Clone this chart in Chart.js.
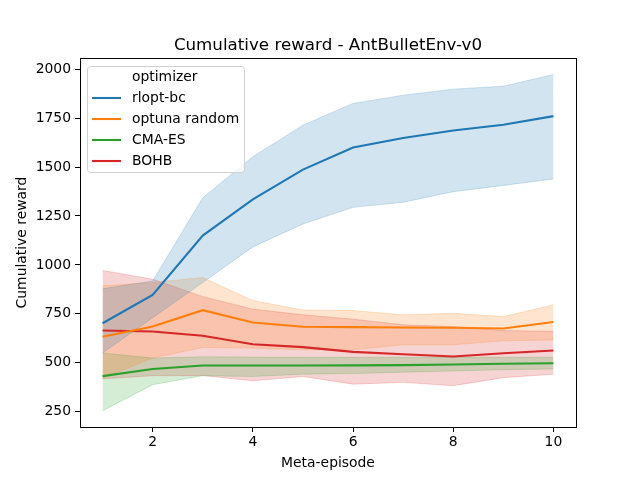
<!DOCTYPE html>
<html>
<head>
<meta charset="utf-8">
<script src="https://cdn.jsdelivr.net/npm/chart.js@4/dist/chart.umd.min.js"></script>
<style>
  html, body { margin: 0; padding: 0; background: #fff; }
  #wrap { width: 640px; height: 480px; }
</style>
</head>
<body>
<div id="wrap"><canvas id="myChart" width="640" height="480"></canvas></div>
<script>
// meta-episodes
const episodes = [1, 2, 3, 4, 5, 6, 7, 8, 9, 10];

const optimizers = ['rlopt-bc', 'optuna random', 'CMA-ES', 'BOHB'];

// mean cumulative reward + confidence band
const rloptMean  = [702, 847, 1150, 1335, 1487, 1600, 1648, 1687, 1716, 1760];
const rloptUpper = [878, 918, 1343, 1553, 1714, 1825, 1867, 1898, 1913, 1973];
const rloptLower = [550, 730, 910, 1092, 1209, 1294, 1320, 1374, 1406, 1439];

const optunaMean  = [633, 685, 769, 706, 684, 682, 680, 679, 675, 708];
const optunaUpper = [893, 910, 936, 818, 770, 767, 745, 753, 736, 796];
const optunaLower = [422, 524, 578, 575, 566, 566, 592, 592, 612, 617];

const cmaMean  = [432, 468, 486, 486, 486, 487, 488, 491, 495, 498];
const cmaUpper = [550, 524, 531, 529, 528, 528, 528, 528, 528, 528];
const cmaLower = [255, 388, 434, 430, 442, 445, 452, 458, 465, 468];

const bohbMean  = [665, 660, 638, 595, 580, 556, 544, 532, 549, 563];
const bohbUpper = [972, 927, 838, 774, 745, 723, 694, 685, 665, 660];
const bohbLower = [418, 434, 435, 408, 430, 391, 400, 383, 424, 442];

const yTicks = [250, 500, 750, 1000, 1250, 1500, 1750, 2000];
const xTicks = [2, 4, 6, 8, 10];

const chartTitle = 'Cumulative reward - AntBulletEnv-v0';

const colors = ['#1f77b4', '#ff7f0e', '#2ca02c', '#d62728'];
const means  = [rloptMean, optunaMean, cmaMean, bohbMean];
const uppers = [rloptUpper, optunaUpper, cmaUpper, bohbUpper];
const lowers = [rloptLower, optunaLower, cmaLower, bohbLower];

function hexAlpha(hex, a) {
    let r = parseInt(hex.slice(1, 3), 16);
    let g = parseInt(hex.slice(3, 5), 16);
    let b = parseInt(hex.slice(5, 7), 16);
    return 'rgba(' + r + ',' + g + ',' + b + ',' + a + ')';
}

function pts(arr) {
    return arr.map((v, i) => ({x: episodes[i], y: v}));
}

const FONT = "'DejaVu Sans', sans-serif";

let datasets = [];
for (let i = 0; i < optimizers.length; i++) {
    // band: upper filled down to lower (next dataset)
    datasets.push({
        label: optimizers[i] + ' upper',
        data: pts(uppers[i]),
        borderColor: hexAlpha(colors[i], 0.2),
        borderWidth: 1,
        backgroundColor: hexAlpha(colors[i], 0.2),
        pointRadius: 0,
        tension: 0,
        fill: '+1',
        order: 10
    });
    datasets.push({
        label: optimizers[i] + ' lower',
        data: pts(lowers[i]),
        borderColor: hexAlpha(colors[i], 0.2),
        borderWidth: 1,
        pointRadius: 0,
        tension: 0,
        fill: false,
        order: 10
    });
}
for (let i = 0; i < optimizers.length; i++) {
    datasets.push({
        label: optimizers[i],
        data: pts(means[i]),
        borderColor: colors[i],
        borderWidth: 2.1,
        pointRadius: 0,
        tension: 0,
        fill: false,
        order: 1
    });
}

// full box round the axes + title centred over the axes, like matplotlib
const frame = {
    id: 'frame',
    afterDatasetsDraw(chart) {
        const a = chart.chartArea;
        const ctx = chart.ctx;
        ctx.save();
        ctx.strokeStyle = '#000';
        ctx.lineWidth = 1;
        ctx.strokeRect(Math.round(a.left) + 0.5, Math.round(a.top) + 0.5,
            Math.round(a.right - a.left), Math.round(a.bottom - a.top));
        ctx.font = '16.7px ' + FONT;
        ctx.fillStyle = '#000';
        ctx.textAlign = 'center';
        ctx.textBaseline = 'alphabetic';
        ctx.fillText(chartTitle, (a.left + a.right) / 2, a.top - 8);
        ctx.restore();
    }
};

// legend inside the axes, upper left
const innerLegend = {
    id: 'innerLegend',
    afterDraw(chart) {
        const ctx = chart.ctx;
        const a = chart.chartArea;
        const x0 = a.left + 7, y0 = a.top + 8;
        const w = 157, h = 106;
        ctx.save();
        ctx.fillStyle = 'rgba(255,255,255,0.8)';
        ctx.strokeStyle = '#d0d0d0';
        ctx.lineWidth = 1;
        ctx.beginPath();
        ctx.roundRect(x0 + 0.5, y0 + 0.5, w, h, 3);
        ctx.fill();
        ctx.stroke();
        ctx.font = '13.9px ' + FONT;
        ctx.textBaseline = 'middle';
        ctx.fillStyle = '#000';
        ctx.fillText('optimizer', x0 + 45, y0 + 11);
        for (let i = 0; i < optimizers.length; i++) {
            let y = y0 + 32 + i * 21;
            ctx.strokeStyle = colors[i];
            ctx.lineWidth = 2.1;
            ctx.beginPath();
            ctx.moveTo(x0 + 5, y);
            ctx.lineTo(x0 + 34, y);
            ctx.stroke();
            ctx.fillText(optimizers[i], x0 + 45, y);
        }
        ctx.restore();
    }
};

const config = {
    type: 'line',
    data: { datasets: datasets },
    options: {
        responsive: false,
        animation: false,
        layout: { padding: { left: 0, right: 64, top: 58, bottom: 0 } },
        plugins: {
            legend: { display: false },
            tooltip: { enabled: false },
            filler: { drawTime: 'beforeDatasetsDraw' },
            title: { display: false }
        },
        scales: {
            x: {
                type: 'linear',
                min: 0.55,
                max: 10.45,
                afterBuildTicks(scale) {
                    scale.ticks = xTicks.map(v => ({value: v}));
                },
                afterFit(scale) { scale.height = 53; },
                ticks: {
                    color: '#000',
                    font: { family: FONT, size: 13.9 },
                    padding: 2,
                    maxRotation: 0,
                    callback: v => String(v)
                },
                grid: {
                    drawOnChartArea: false,
                    drawTicks: true,
                    tickLength: 5,
                    tickColor: '#000',
                    color: '#000'
                },
                border: { color: '#000' },
                title: {
                    display: true,
                    text: 'Meta-episode',
                    color: '#000',
                    font: { family: FONT, size: 13.9 },
                    padding: { top: 0, bottom: 8 }
                }
            },
            y: {
                type: 'linear',
                min: 172,
                max: 2057,
                afterBuildTicks(scale) {
                    scale.ticks = yTicks.map(v => ({value: v}));
                },
                afterFit(scale) { scale.width = 80; },
                ticks: {
                    color: '#000',
                    font: { family: FONT, size: 13.9 },
                    padding: 4,
                    callback: v => String(v)
                },
                grid: {
                    drawOnChartArea: false,
                    drawTicks: true,
                    tickLength: 5,
                    tickColor: '#000',
                    color: '#000'
                },
                border: { color: '#000' },
                title: {
                    display: true,
                    text: 'Cumulative reward',
                    color: '#000',
                    font: { family: FONT, size: 13.9 },
                    padding: { top: 14, bottom: 0 }
                }
            }
        }
    },
    plugins: [frame, innerLegend]
};

const myChart = new Chart(document.getElementById('myChart'), config);
</script>
</body>
</html>
